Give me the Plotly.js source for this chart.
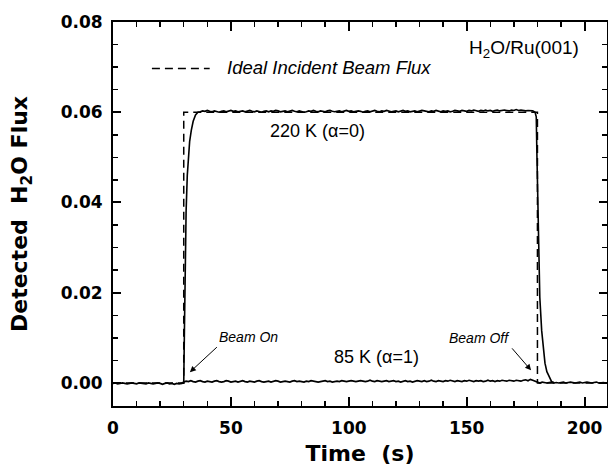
<!DOCTYPE html>
<html>
<head>
<meta charset="utf-8">
<script src="https://cdn.plot.ly/plotly-3.0.1.min.js"></script>
<style>
  html, body { margin: 0; padding: 0; background: #ffffff; }
  #chart { width: 608px; height: 469px; }
</style>
</head>
<body>
<div id="chart"></div>
<script>
// Ideal incident beam flux: square pulse, beam on at 30 s, off at 180 s
const idealTime = [0, 30, 30, 180, 180, 209.5];
const idealFlux = [0, 0, 0.06, 0.06, 0, 0];

// 85 K trace (alpha = 1), one sample per second starting at t = 0 s
const flux85Start = 0;
const flux85Step = 1;
const flux85 = [
  -0.0001, 0.0000, -0.0002, -0.0001, 0.0000, -0.0001, -0.0002, -0.0001, 0.0000, -0.0001,
  -0.0002, 0.0000, -0.0001, -0.0001, -0.0002, 0.0000, -0.0001, -0.0002, -0.0001, 0.0000,
  -0.0001, -0.0003, -0.0001, 0.0000, -0.0002, -0.0001, -0.0003, -0.0001, -0.0002, -0.0001,
  0.0002, 0.0004, 0.0003, 0.0005, 0.0003, 0.0002, 0.0004, 0.0005, 0.0003, 0.0002,
  0.0004, 0.0003, 0.0002, 0.0004, 0.0005, 0.0003, 0.0002, 0.0003, 0.0005, 0.0004,
  0.0002, 0.0003, 0.0004, 0.0002, 0.0003, 0.0005, 0.0003, 0.0002, 0.0004, 0.0003,
  0.0002, 0.0004, 0.0005, 0.0003, 0.0002, 0.0003, 0.0004, 0.0002, 0.0003, 0.0005,
  0.0004, 0.0002, 0.0003, 0.0004, 0.0003, 0.0002, 0.0004, 0.0005, 0.0003, 0.0004,
  0.0003, 0.0002, 0.0004, 0.0003, 0.0005, 0.0004, 0.0003, 0.0002, 0.0003, 0.0004,
  0.0005, 0.0003, 0.0004, 0.0002, 0.0003, 0.0004, 0.0003, 0.0005, 0.0004, 0.0003,
  0.0004, 0.0005, 0.0004, 0.0003, 0.0004, 0.0005, 0.0004, 0.0003, 0.0004, 0.0006,
  0.0004, 0.0003, 0.0005, 0.0004, 0.0003, 0.0004, 0.0005, 0.0003, 0.0004, 0.0005,
  0.0003, 0.0004, 0.0002, 0.0004, 0.0005, 0.0003, 0.0004, 0.0002, 0.0003, 0.0005,
  0.0004, 0.0003, 0.0005, 0.0003, 0.0004, 0.0006, 0.0004, 0.0003, 0.0005, 0.0004,
  0.0003, 0.0005, 0.0004, 0.0006, 0.0004, 0.0003, 0.0005, 0.0004, 0.0003, 0.0005,
  0.0004, 0.0006, 0.0004, 0.0003, 0.0005, 0.0004, 0.0005, 0.0003, 0.0004, 0.0006,
  0.0004, 0.0005, 0.0003, 0.0005, 0.0004, 0.0006, 0.0005, 0.0004, 0.0006, 0.0005,
  0.0004, 0.0006, 0.0005, 0.0004, 0.0006, 0.0007, 0.0005, 0.0008, 0.0006, 0.0004,
  0.0001, 0.0000, 0.0002, 0.0001, 0.0000, 0.0001, 0.0002, 0.0000, 0.0001, 0.0000,
  0.0001, 0.0002, 0.0000, 0.0001, 0.0002, 0.0001, 0.0000, 0.0001, 0.0002, 0.0000,
  0.0001, 0.0002, 0.0001, 0.0000, 0.0001, 0.0002, 0.0000, 0.0001, 0.0001, 0.0000
];

// 220 K trace (alpha = 0): fast rise after beam on
const rise220Time = [29, 30, 30.3, 30.6, 31.0, 31.5, 32.0, 32.5, 33.2, 34.0, 35.0, 36.0];
const rise220Flux = [-0.0001, 0.0, 0.012, 0.027, 0.038, 0.046, 0.0505, 0.0535, 0.0560, 0.0580, 0.0594, 0.0600];

// 220 K steady-state plateau, one sample per second from t = 37 s to 179 s
const plateau220Start = 37;
const plateau220 = [
  0.0601, 0.0603, 0.0602, 0.0604, 0.0602, 0.0601, 0.0603, 0.0602, 0.0600, 0.0602,
  0.0603, 0.0601, 0.0602, 0.0604, 0.0602, 0.0603, 0.0601, 0.0602, 0.0603, 0.0601,
  0.0602, 0.0604, 0.0602, 0.0601, 0.0603, 0.0602, 0.0600, 0.0602, 0.0603, 0.0601,
  0.0603, 0.0602, 0.0604, 0.0603, 0.0601, 0.0602, 0.0603, 0.0601, 0.0602, 0.0604,
  0.0602, 0.0601, 0.0603, 0.0602, 0.0600, 0.0601, 0.0603, 0.0602, 0.0604, 0.0602,
  0.0601, 0.0603, 0.0602, 0.0601, 0.0603, 0.0604, 0.0602, 0.0601, 0.0602, 0.0603,
  0.0601, 0.0602, 0.0604, 0.0602, 0.0603, 0.0601, 0.0602, 0.0603, 0.0602, 0.0600,
  0.0602, 0.0603, 0.0601, 0.0603, 0.0604, 0.0602, 0.0601, 0.0603, 0.0602, 0.0604,
  0.0603, 0.0601, 0.0602, 0.0603, 0.0601, 0.0602, 0.0604, 0.0602, 0.0603, 0.0601,
  0.0602, 0.0603, 0.0601, 0.0602, 0.0604, 0.0603, 0.0602, 0.0601, 0.0603, 0.0602,
  0.0604, 0.0602, 0.0601, 0.0603, 0.0602, 0.0603, 0.0601, 0.0602, 0.0604, 0.0603,
  0.0602, 0.0604, 0.0603, 0.0602, 0.0604, 0.0603, 0.0605, 0.0603, 0.0602, 0.0604,
  0.0603, 0.0605, 0.0603, 0.0604, 0.0602, 0.0604, 0.0605, 0.0603, 0.0604, 0.0605,
  0.0604, 0.0603, 0.0605, 0.0604, 0.0606, 0.0604, 0.0605, 0.0604, 0.0603, 0.0604,
  0.0604, 0.0603, 0.0600
];

// 220 K decay after beam off
const fall220Time = [179.5, 179.8, 180.3, 181.0, 181.8, 182.5, 183.2, 184.0, 185.3, 186.0, 187.0];
const fall220Flux = [0.0590, 0.0500, 0.0340, 0.0190, 0.0116, 0.0070, 0.0044, 0.0025, 0.0008, 0.0003, 0.0001];

const plateau220Time = plateau220.map((_, i) => plateau220Start + i);
const time220 = rise220Time.concat(plateau220Time, fall220Time);
const flux220 = rise220Flux.concat(plateau220, fall220Flux);

const black = '#000000';
const sans = 'Liberation Sans, Arial, sans-serif';
const bold = 'DejaVu Sans, sans-serif';

const traces = [
  {
    name: 'Ideal Incident Beam Flux',
    x: idealTime, y: idealFlux,
    type: 'scatter', mode: 'lines',
    line: { color: black, width: 1.5, dash: '8px,5px' },
    showlegend: false, hoverinfo: 'skip'
  },
  {
    name: '85 K',
    y: flux85, x0: flux85Start, dx: flux85Step,
    type: 'scatter', mode: 'lines',
    line: { color: black, width: 1.7 },
    showlegend: false
  },
  {
    name: '220 K',
    x: time220, y: flux220,
    type: 'scatter', mode: 'lines',
    line: { color: black, width: 1.6 },
    showlegend: false
  }
];

const axisCommon = {
  showline: true, linecolor: black, linewidth: 2,
  mirror: 'ticks', ticks: 'inside', tickcolor: black, tickwidth: 2,
  showgrid: false, zeroline: false,
  tickfont: { family: bold, size: 17, color: black, weight: 'bold' }
};

const layout = {
  width: 608, height: 469,
  margin: { l: 113, r: 1, t: 22, b: 63 },
  paper_bgcolor: '#ffffff', plot_bgcolor: '#ffffff',
  showlegend: false,
  xaxis: Object.assign({}, axisCommon, {
    range: [0, 209.5],
    tickmode: 'linear', tick0: 0, dtick: 50, ticklen: 9,
    ticklabelstandoff: 6,
    minor: { dtick: 10, ticks: 'inside', ticklen: 5, tickwidth: 1.5, tickcolor: black, showgrid: false },
    title: { text: 'Time&nbsp;&nbsp;(s)', font: { family: bold, size: 22, color: black, weight: 'bold' }, standoff: 8 }
  }),
  yaxis: Object.assign({}, axisCommon, {
    range: [-0.0051, 0.08],
    tickmode: 'linear', tick0: 0, dtick: 0.02, ticklen: 8,
    tickformat: '.2f',
    ticklabelstandoff: 5,
    minor: { dtick: 0.005, ticks: 'inside', ticklen: 5, tickwidth: 1.5, tickcolor: black, showgrid: false },
    title: { text: 'Detected&nbsp;&nbsp;H<sub>2</sub>O Flux', font: { family: bold, size: 22, color: black, weight: 'bold' }, standoff: 27 }
  }),
  shapes: [
    // dashed sample line for the ideal-beam key
    { type: 'line', xref: 'x', yref: 'y', x0: 16.5, x1: 41.0, y0: 0.0697, y1: 0.0697,
      line: { color: black, width: 1.3, dash: '8px,5px' } }
  ],
  annotations: [
    { x: 47.4, y: 0.0700, xref: 'x', yref: 'y', xanchor: 'left', yanchor: 'middle', showarrow: false,
      text: '<i>Ideal Incident Beam Flux</i>', font: { family: sans, size: 18.5, color: black } },
    { x: 174.4, y: 0.0741, xref: 'x', yref: 'y', xanchor: 'center', yanchor: 'middle', showarrow: false,
      text: 'H<sub>2</sub>O/Ru(001)', font: { family: sans, size: 19, color: black } },
    { x: 86.8, y: 0.0558, xref: 'x', yref: 'y', xanchor: 'center', yanchor: 'middle', showarrow: false,
      text: '220 K (α=0)', font: { family: sans, size: 18, color: black } },
    { x: 111.7, y: 0.0057, xref: 'x', yref: 'y', xanchor: 'center', yanchor: 'middle', showarrow: false,
      text: '85 K (α=1)', font: { family: sans, size: 18, color: black } },
    // beam switching labels, each with an arrow to the switching instant
    { x: 32.6, y: 0.0024, xref: 'x', yref: 'y', showarrow: true,
      ax: 27, ay: -25, xanchor: 'left', yanchor: 'bottom',
      text: '<i>Beam On</i>', font: { family: sans, size: 14, color: black },
      arrowhead: 2, arrowsize: 1.2, arrowwidth: 1, arrowcolor: black },
    { x: 177.3, y: 0.0028, xref: 'x', yref: 'y', showarrow: true,
      ax: -19, ay: -22, xanchor: 'right', yanchor: 'bottom',
      text: '<i>Beam Off</i>', font: { family: sans, size: 14, color: black },
      arrowhead: 2, arrowsize: 1.2, arrowwidth: 1, arrowcolor: black }
  ]
};

Plotly.newPlot('chart', traces, layout, { staticPlot: true, displayModeBar: false });
</script>
</body>
</html>
